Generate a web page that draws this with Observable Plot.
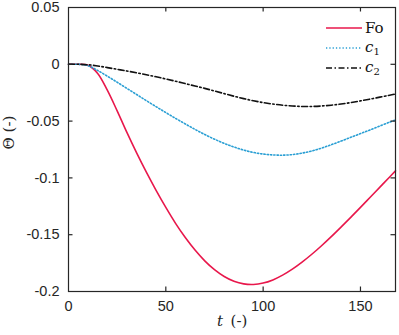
<!DOCTYPE html>
<html>
<head>
<meta charset="utf-8">
<script src="https://cdn.jsdelivr.net/npm/d3@7"></script>
<script src="https://cdn.jsdelivr.net/npm/@observablehq/plot@0.6"></script>
<style>
  html, body { margin: 0; padding: 0; background: #fff; }
  #wrap { position: relative; width: 399px; height: 335px; }
  #legend { position: absolute; left: 324px; top: 18px; }
  #legend .row { display: flex; align-items: center; height: 20px; }
  #legend .lab { font-family: "DejaVu Serif", "Liberation Serif", serif; font-size: 15px; color: #111; margin-left: 3px; line-height: 1; }
  #legend .lab i { font-style: italic; }
  #legend .lab sub { font-size: 10px; font-style: normal; vertical-align: -3px; }
</style>
</head>
<body>
<div id="wrap"></div>
<script>
const t = [0,5,10,15,20,25,30,35,40,45,50,55,60,65,70,75,80,85,90,95,100,105,110,115,120,125,130,135,140,145,150,155,160,165,168];
const fo = [0,0,-0.0008,-0.008,-0.023,-0.041,-0.060,-0.078,-0.095,-0.111,-0.126,-0.140,-0.1525,-0.1635,-0.1730,-0.1808,-0.1868,-0.1910,-0.1933,-0.1938,-0.1926,-0.1898,-0.1856,-0.1803,-0.1741,-0.1672,-0.1597,-0.1517,-0.1433,-0.1347,-0.1259,-0.1170,-0.1081,-0.0992,-0.0938];
const c1 = [0,0,-0.0012,-0.0055,-0.0105,-0.0158,-0.0212,-0.0266,-0.0320,-0.0373,-0.0425,-0.0476,-0.0525,-0.0573,-0.0618,-0.0659,-0.0696,-0.0728,-0.0755,-0.0776,-0.0790,-0.0798,-0.0800,-0.0795,-0.0782,-0.0763,-0.0738,-0.0708,-0.0676,-0.0643,-0.0610,-0.0577,-0.0543,-0.0509,-0.0489];
const c2 = [0,0,-0.0004,-0.0015,-0.0029,-0.0044,-0.0059,-0.0075,-0.0092,-0.0110,-0.0129,-0.0149,-0.0170,-0.0191,-0.0212,-0.0235,-0.0258,-0.0281,-0.0302,-0.0321,-0.0337,-0.0350,-0.0360,-0.0367,-0.0371,-0.0371,-0.0367,-0.0360,-0.0350,-0.0337,-0.0322,-0.0306,-0.0289,-0.0272,-0.0262];

const seriesNames = ["Fo", "c1", "c2"];
const seriesLabels = ["Fo", "<i>c</i><sub>1</sub>", "<i>c</i><sub>2</sub>"];
const seriesColors = ["#e8174b", "#2a9fd4", "#111111"];
const seriesDash = [null, "1.3 2", "6 2.5 1.5 2.5"];
const seriesWidth = [1.6, 1.6, 1.6];

const xTicks = [0, 50, 100, 150];
const yTicks = [0.05, 0, -0.05, -0.1, -0.15, -0.2];
const xDomain = [0, 168];
const yDomain = [-0.2, 0.05];

const series = [fo, c1, c2];
const data = [];
series.forEach((vals, k) => vals.forEach((v, i) => data.push({t: t[i], v, s: seriesNames[k]})));

const W = 399, H = 335;
const mL = 68, mR = 4, mT = 7, mB = 44;
const xTickLen = (xDomain[1] - xDomain[0]) / (W - mL - mR) * 4.5;
const yTickLen = (yDomain[1] - yDomain[0]) / (H - mT - mB) * 4.5;

const axisColor = "#262626";
const tickFont = "Liberation Sans, Arial, sans-serif";

const marks = [
  ...seriesNames.map((name, k) => Plot.line(data.filter(d => d.s === name), {
    x: "t", y: "v", stroke: seriesColors[k], strokeWidth: seriesWidth[k],
    strokeDasharray: seriesDash[k], curve: "catmull-rom"
  })),
  Plot.frame({stroke: axisColor, strokeWidth: 1.2}),
  Plot.ruleX(xTicks.filter(d => d > xDomain[0]), {x: d => d, y1: yDomain[0], y2: yDomain[0] + yTickLen, stroke: axisColor, strokeWidth: 1.2}),
  Plot.ruleX(xTicks.filter(d => d > xDomain[0]), {x: d => d, y1: yDomain[1], y2: yDomain[1] - yTickLen, stroke: axisColor, strokeWidth: 1.2}),
  Plot.ruleY(yTicks.filter(d => d > yDomain[0] && d < yDomain[1]), {y: d => d, x1: xDomain[0], x2: xDomain[0] + xTickLen, stroke: axisColor, strokeWidth: 1.2}),
  Plot.ruleY(yTicks.filter(d => d > yDomain[0] && d < yDomain[1]), {y: d => d, x1: xDomain[1], x2: xDomain[1] - xTickLen, stroke: axisColor, strokeWidth: 1.2}),
  Plot.axisX(xTicks, {tickSize: 0, tickPadding: 9, label: null, fontSize: 14.5, fontFamily: tickFont, color: axisColor}),
  Plot.axisY(yTicks, {tickSize: 0, tickPadding: 9, label: null, fontSize: 14.5, fontFamily: tickFont, color: axisColor, tickFormat: d => String(d)}),
  Plot.text(["t"], {frameAnchor: "bottom", dx: -12, dy: 34, fontFamily: "DejaVu Serif, serif", fontStyle: "italic", fontSize: 15, fill: axisColor}),
  Plot.text(["(-)"], {frameAnchor: "bottom", dx: 7, dy: 34, fontFamily: "DejaVu Serif, serif", fontSize: 15, fill: axisColor}),
  Plot.text(["Θ (-)"], {frameAnchor: "left", dx: -59, rotate: -90, fontFamily: "DejaVu Serif, serif", fontSize: 15, fill: axisColor})
];

const chart = Plot.plot({
  width: W, height: H,
  marginLeft: mL, marginRight: mR, marginTop: mT, marginBottom: mB,
  x: {domain: xDomain},
  y: {domain: yDomain},
  style: {background: "#fff", overflow: "visible"},
  marks
});

const wrap = document.getElementById("wrap");
wrap.appendChild(chart);

const leg = document.createElement("div");
leg.id = "legend";
seriesNames.forEach((name, k) => {
  const row = document.createElement("div");
  row.className = "row";
  const svg = d3.create("svg").attr("width", 38).attr("height", 10);
  svg.append("line").attr("x1", 2).attr("x2", 38).attr("y1", 5).attr("y2", 5)
    .attr("stroke", seriesColors[k]).attr("stroke-width", seriesWidth[k])
    .attr("stroke-dasharray", seriesDash[k]);
  row.appendChild(svg.node());
  const lab = document.createElement("span");
  lab.className = "lab";
  lab.innerHTML = seriesLabels[k];
  row.appendChild(lab);
  leg.appendChild(row);
});
wrap.appendChild(leg);
</script>
</body>
</html>
